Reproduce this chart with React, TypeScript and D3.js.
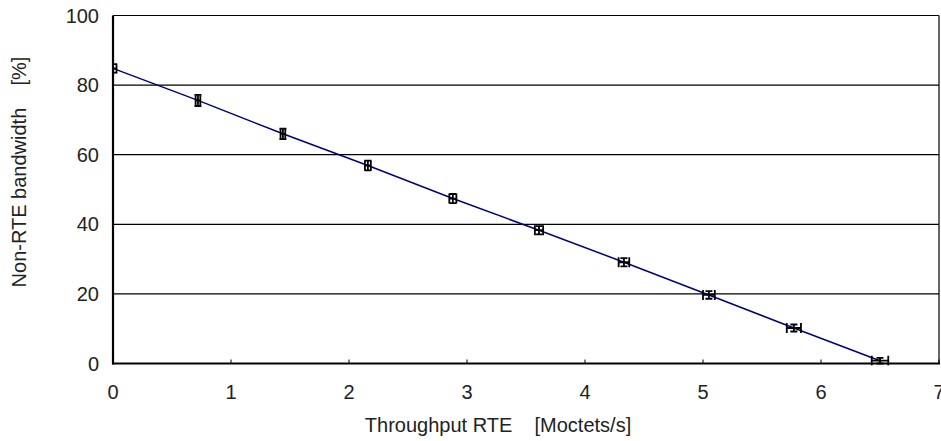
import React from "react";
import * as d3 from "d3";

const throughput = [0, 0.72, 1.44, 2.16, 2.88, 3.61, 4.33, 5.05, 5.77, 6.5];
const bandwidth = [84.8, 75.6, 66.0, 56.9, 47.4, 38.3, 29.1, 19.7, 10.2, 0.8];
const xError = [0.03, 0.02, 0.02, 0.025, 0.03, 0.035, 0.045, 0.05, 0.06, 0.07];
const yError = [1.2, 1.6, 1.5, 1.4, 1.3, 1.2, 1.2, 1.1, 1.0, 0.8];
const xTicks = [0, 1, 2, 3, 4, 5, 6, 7];
const yTicks = [0, 20, 40, 60, 80, 100];
const xLabel = "Throughput RTE    [Moctets/s]";
const yLabel = "Non-RTE bandwidth    [%]";

const W = 941;
const H = 441;
const M = { left: 113, right: 939, top: 15.5, bottom: 363.5 };
const FONT = "'Liberation Sans', Arial, sans-serif";
const FS = 20;

export default function App() {
  const x = d3.scaleLinear().domain([0, 7]).range([M.left, M.right]);
  const y = d3.scaleLinear().domain([0, 100]).range([M.bottom, M.top]);
  const pts = throughput.map((t, i) => ({ t, b: bandwidth[i], e: xError[i], ey: yError[i] }));
  const line = d3
    .line<{ t: number; b: number }>()
    .x((d) => x(d.t))
    .y((d) => y(d.b));
  const capX = 5;
  const capY = 3.5;
  return (
    <svg
      width={W}
      height={H}
      style={{ position: "absolute", left: 0, top: 0, background: "#fff" }}
      fontFamily={FONT}
    >
      <defs>
        <clipPath id="plotclip">
          <rect x={M.left} y={M.top - 2} width={M.right - M.left + 2} height={M.bottom - M.top + 4} />
        </clipPath>
      </defs>
      {yTicks.map((v) => (
        <line key={"g" + v} x1={M.left} x2={M.right} y1={y(v)} y2={y(v)} stroke="#000" strokeWidth={1.2} />
      ))}
      <line x1={M.right} x2={M.right} y1={M.top} y2={M.bottom} stroke="#000" strokeWidth={1.2} />
      {xTicks.map((v) => (
        <line key={"xt" + v} x1={x(v)} x2={x(v)} y1={M.bottom} y2={M.bottom - 4} stroke="#000" strokeWidth={1} />
      ))}
      <path d={line(pts) || ""} fill="none" stroke="#000080" strokeWidth={1.5} />
      <g clipPath="url(#plotclip)">
        {pts.map((p, i) => {
          const cx = x(p.t);
          const cy = y(p.b);
          const x0 = x(p.t - p.e);
          const x1 = x(p.t + p.e);
          const y0 = y(p.b - p.ey);
          const y1 = y(p.b + p.ey);
          return (
            <g key={"e" + i} stroke="#000" strokeWidth={1.8}>
              <line x1={x0} x2={x1} y1={cy} y2={cy} />
              <line x1={x0} x2={x0} y1={cy - capX} y2={cy + capX} />
              <line x1={x1} x2={x1} y1={cy - capX} y2={cy + capX} />
              <line x1={cx} x2={cx} y1={y0} y2={y1} />
              <line x1={cx - capY} x2={cx + capY} y1={y0} y2={y0} />
              <line x1={cx - capY} x2={cx + capY} y1={y1} y2={y1} />
            </g>
          );
        })}
      </g>
      <line x1={M.left} x2={M.left} y1={M.top} y2={M.bottom + 1} stroke="#000" strokeWidth={2.2} />
      <line x1={M.left - 1} x2={M.right + 1} y1={M.bottom} y2={M.bottom} stroke="#000" strokeWidth={2.2} />
      {yTicks.map((v) => (
        <text key={"yl" + v} x={99} y={y(v)} dy="0.35em" textAnchor="end" fontSize={FS} fill="#222">
          {v}
        </text>
      ))}
      {xTicks.map((v) => (
        <text key={"xl" + v} x={x(v)} y={399} textAnchor="middle" fontSize={FS} fill="#222">
          {v}
        </text>
      ))}
      <text x={498} y={432} textAnchor="middle" fontSize={FS} fill="#222" style={{ whiteSpace: "pre" }}>
        {xLabel}
      </text>
      <text
        transform={`translate(26, 172) rotate(-90)`}
        textAnchor="middle"
        fontSize={FS}
        fill="#222"
        style={{ whiteSpace: "pre" }}
      >
        {yLabel}
      </text>
    </svg>
  );
}
